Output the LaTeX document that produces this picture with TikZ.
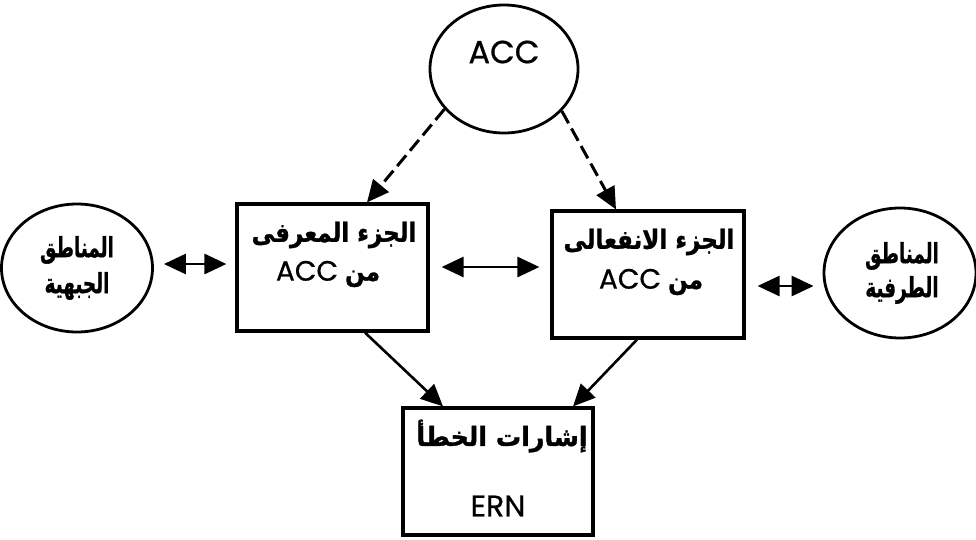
\documentclass[tikz,border=0pt]{standalone}
\usepackage{fontspec}
\usetikzlibrary{arrows.meta,shapes.geometric}
\TeXXeTstate=1
\newfontfamily\arabicfont[Script=Arabic,BoldFeatures={FakeBold=1.2}]{DejaVu Sans}
\newfontfamily\latinfont[FakeBold=0.6]{Poppins}
\newcommand\arTxt[1]{{\arabicfont\bfseries\fontsize{23}{26}\selectfont\beginR #1\endR}}
\tikzset{
  boxn/.style={draw,line width=3.2pt,rectangle,minimum width=191pt,minimum height=127pt,inner sep=0pt},
  ovaln/.style={draw,line width=2.8pt,ellipse,inner sep=0pt},
  boxtxt/.style={inner sep=0pt},
  dbl/.style={{Triangle[length=22pt,width=20pt]}-{Triangle[length=22pt,width=20pt]},line width=2.8pt},
  sol/.style={-{Triangle[length=22pt,width=20pt]},line width=2.6pt},
  dsh/.style={-{Triangle[length=22pt,width=20pt]},line width=3pt,dash pattern=on 14pt off 6pt}
}
\begin{document}
\begin{tikzpicture}[x=1pt,y=-1pt]
\useasboundingbox[fill=white] (0,0) rectangle (976,539);
% shapes
\node[ovaln,minimum width=148pt,minimum height=128pt] (ACC) at (504,69) {};
\node[ovaln,minimum width=151pt,minimum height=128pt] (LE) at (77,268) {};
\node[ovaln,minimum width=152pt,minimum height=130pt] (RE) at (900,273) {};
\node[boxn] (L) at (332.5,267.5) {};
\node[boxn,minimum width=192pt] (R) at (648,274.5) {};
\node[boxn,minimum width=190pt] (B) at (498,471.5) {};
% texts
\node[boxtxt,font=\latinfont\fontsize{32}{36}\selectfont] (accT) at (504,52) {ACC};
\node[boxtxt] (le1) at (77,250) {\scalebox{0.8}[1.2]{\arTxt{المناطق}}};
\node[boxtxt] (le2) at (77,286) {\scalebox{0.8}[1.2]{\arTxt{الجبهية}}};
\node[boxtxt] (re1) at (902,256) {\scalebox{0.8}[1.2]{\arTxt{المناطق}}};
\node[boxtxt] (re2) at (902,290) {\scalebox{0.8}[1.2]{\arTxt{الطرفية}}};
\node[boxtxt] (l1) at (334,235) {\scalebox{1}[1.15]{\arTxt{الجزء المعرفى}}};
\node[boxtxt] (l2) at (328,274) {{\latinfont\fontsize{28}{32}\selectfont ACC}\hspace{7pt}\scalebox{1}[1.15]{\arTxt{من}}};
\node[boxtxt] (r1) at (649,242) {\scalebox{1}[1.15]{\arTxt{الجزء الانفعالى}}};
\node[boxtxt] (r2) at (651,282) {{\latinfont\fontsize{28}{32}\selectfont ACC}\hspace{7pt}\scalebox{1}[1.15]{\arTxt{من}}};
\node[boxtxt] (b1) at (502,436) {\scalebox{1.1}[1.15]{\arTxt{إشارات الخطأ}}};
\node[boxtxt,font=\latinfont\fontsize{30}{34}\selectfont] (b2) at (498,506) {ERN};
% connectors
\draw[dsh] (ACC.214) -- ([xshift=34.5pt]L.north);
\draw[dsh] (ACC.324) -- ([xshift=-32pt]R.north);
\draw[dbl,shorten <=10pt,shorten >=9pt] ([yshift=4pt]LE.east) -- ([yshift=4pt]LE.east -| L.west);
\draw[dbl,shorten <=12pt,shorten >=11pt] ([yshift=0.5pt]L.east) -- ([yshift=0.5pt]L.east -| R.west);
\draw[dbl,shorten <=12pt,shorten >=9pt] ([yshift=-11.5pt]R.east) -- ([yshift=-11.5pt]R.east -| RE.west);
\draw[sol] ([xshift=32.5pt]L.south) -- ([xshift=-55pt]B.north);
\draw[sol] ([xshift=-11pt]R.south) -- ([xshift=75pt]B.north);
\end{tikzpicture}
\end{document}
